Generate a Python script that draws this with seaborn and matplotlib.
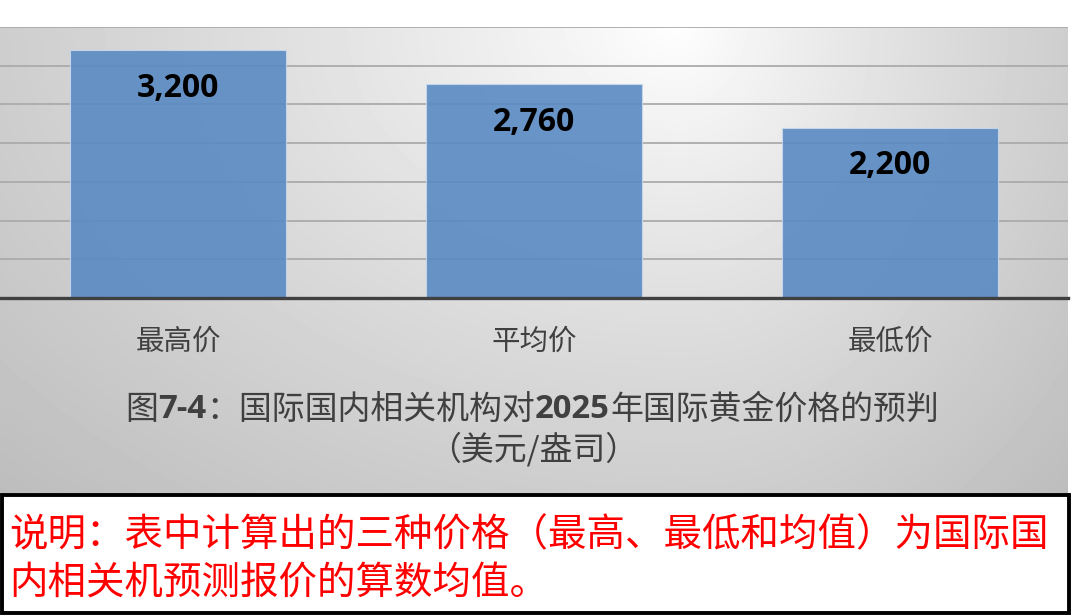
import numpy as np
import pandas as pd
import matplotlib
matplotlib.use("Agg")
import matplotlib.pyplot as plt
from matplotlib.patches import Rectangle
import seaborn as sns

# ---- data ----
categories = ["最高价", "平均价", "最低价"]
values = [3200, 2760, 2200]
value_labels = ["3,200", "2,760", "2,200"]
y_ticks = [0, 500, 1000, 1500, 2000, 2500, 3000, 3500]
title_pieces = [("图", "normal"), ("7-4", "bold"), ("：国际国内相关机构对", "normal"),
                ("2025", "bold"), ("年国际黄金价格的预判", "normal")]
subtitle = "（美元/盎司）"
note_lines = ["说明：表中计算出的三种价格（最高、最低和均值）为国际国",
              "内相关机预测报价的算数均值。"]

sns.set_theme(style="white")
CJK = ["Noto Sans CJK SC", "DejaVu Sans"]
plt.rcParams["font.family"] = CJK

W, H = 1071, 615
fig = plt.figure(figsize=(W / 100, H / 100), dpi=100)
fig.patch.set_facecolor("white")

def fx(px):
    return px / W

def fy(py):
    return 1 - py / H

# ---- gradient background panel ----
pl, pr, pt, pb = 0, 1068, 27, 493
bg = fig.add_axes([fx(pl), fy(pb), fx(pr - pl), (pb - pt) / H], zorder=-10)
xs = np.arange(pl, pr) + 0.5
ys = np.arange(pt, pb) + 0.5
X, Y = np.meshgrid(xs, ys)
cx, cy = 680, 25
tx = np.where(X < cx, (cx - X) / (cx - pl), (X - cx) / (pr - cx))
ty = (Y - cy) / (pb - cy)
t = np.sqrt(tx ** 2 + ty ** 2) / np.sqrt(2)
g = 1 - 0.26 * np.clip(t, 0, 1) ** 0.85
bg.imshow(g, cmap="gray", vmin=0, vmax=1, aspect="auto", interpolation="bilinear")
bg.set_axis_off()

# ---- chart axes ----
ax = fig.add_axes([fx(pl), fy(298), fx(pr - pl), (298 - pt) / H])
ax.set_facecolor("none")
df = pd.DataFrame({"cat": categories, "val": values})
sns.barplot(data=df, x="cat", y="val", color="#5a8ac3", width=0.605,
            saturation=1, alpha=0.9, edgecolor="#c9d8ec", linewidth=0.8, ax=ax, zorder=2)
ax.set_xlim(-0.5, 2.5)
ax.set_ylim(0, 3500)
ax.set_yticks(y_ticks)
ax.yaxis.grid(True, color="#ababab", linewidth=1.3)
ax.set_axisbelow(True)
ax.tick_params(axis="y", length=0, labelleft=False)
ax.tick_params(axis="x", length=0, pad=20.5, labelsize=20.5, labelcolor="#404040")
for s in ["left", "right", "top"]:
    ax.spines[s].set_visible(False)
ax.spines["bottom"].set_color("#404040")
ax.spines["bottom"].set_linewidth(2.4)
ax.spines["bottom"].set_zorder(5)
ax.set_xlabel("")
ax.set_ylabel("")

for i, (v, lab) in enumerate(zip(values, value_labels)):
    ax.annotate(lab, xy=(i, v), xytext=(0, -27.5), textcoords="offset points",
                ha="center", va="center", fontsize=23, fontweight="bold",
                family=["Open Sans", "DejaVu Sans"], color="black", zorder=6)

# ---- title (mixed weight) ----
renderer = fig.canvas.get_renderer()
title_size = 23.7
texts = []
for s, w in title_pieces:
    fam = ["Open Sans", "DejaVu Sans"] if w == "bold" else CJK
    tt = fig.text(0, fy(410), s, fontsize=title_size, fontweight=w, family=fam,
                  color="#404040", ha="left", va="center")
    texts.append(tt)
widths = [tt.get_window_extent(renderer).width for tt in texts]
x0 = 532 - sum(widths) / 2
for tt, w in zip(texts, widths):
    tt.set_x(fx(x0))
    x0 += w
fig.text(fx(533), fy(449), subtitle, fontsize=title_size, color="#404040",
         ha="center", va="center")

# ---- note box ----
box = Rectangle((fx(1.5), fy(612.5)), fx(1068.5 - 1.5), (612.5 - 495) / H,
                transform=fig.transFigure, facecolor="white", edgecolor="black",
                linewidth=2.8, zorder=1)
fig.patches.append(box)
for k, line in enumerate(note_lines):
    fig.text(fx(9), fy(535 + 48 * k), line, fontsize=27.7, color="#ff0000",
             ha="left", va="center", zorder=3)

fig.savefig("out.png", dpi=100, facecolor="white")
